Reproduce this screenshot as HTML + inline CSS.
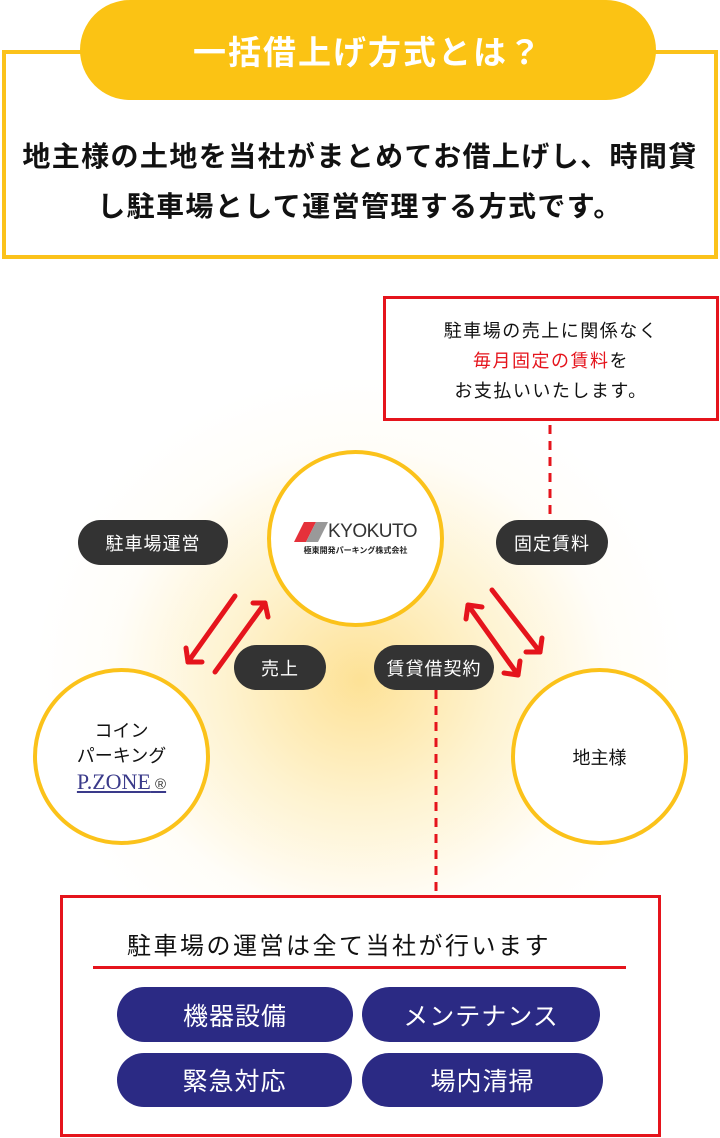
<!DOCTYPE html>
<html><head><meta charset="utf-8"><style>
*{margin:0;padding:0;box-sizing:border-box}
body{width:720px;height:1138px;position:relative;background:#fff;font-family:"Liberation Sans","Noto Sans CJK JP",sans-serif;overflow:hidden}
.a{position:absolute}
.glow{left:40px;top:380px;width:640px;height:600px;background:radial-gradient(ellipse at center,rgba(252,206,80,.6) 0%,rgba(253,220,120,.35) 30%,rgba(255,240,200,.12) 55%,rgba(255,255,255,0) 72%)}
.circ{border:4px solid #fbc21a;border-radius:50%;background:#fff;display:flex;flex-direction:column;align-items:center;justify-content:center;text-align:center;font-size:18px;color:#111}
.pill{background:#333;color:#fff;border-radius:23px;height:45px;display:flex;align-items:center;justify-content:center;font-size:18px;letter-spacing:1px}
.btn{background:#2b2a84;color:#fff;border-radius:28px;display:flex;align-items:center;justify-content:center;font-size:25px;letter-spacing:1px}
</style></head><body>
<div class="a" style="left:2px;top:50px;width:716px;height:209px;border:4px solid #fbc21a"></div>
<div class="a" style="left:80px;top:0;width:576px;height:100px;border-radius:50px;background:#fbc314;color:#fff;font-size:33px;font-weight:bold;display:flex;align-items:center;justify-content:center;letter-spacing:2px">一括借上げ方式とは？</div>
<div class="a" style="left:0;top:132px;width:720px;text-align:center;font-size:28px;font-weight:bold;line-height:50px;color:#111;letter-spacing:1.4px">地主様の土地を当社がまとめてお借上げし、時間貸<br>し駐車場として運営管理する方式です。</div>

<div class="a glow"></div>

<div class="a" style="left:383px;top:296px;width:336px;height:125px;border:3px solid #e5141c;background:#fff;text-align:center;font-size:18px;line-height:30px;padding-top:17px;color:#111;letter-spacing:1.5px">駐車場の売上に関係なく<br><span style="color:#e5141c">毎月固定の賃料</span>を<br>お支払いいたします。</div>

<svg class="a" style="left:0;top:0" width="720" height="1138">
<line x1="550" y1="425" x2="550" y2="520" stroke="#e5141c" stroke-width="3" stroke-dasharray="9,7"/>
<line x1="436" y1="690" x2="436" y2="895" stroke="#e5141c" stroke-width="3" stroke-dasharray="9,7"/>
<g stroke="#e5141c" stroke-width="5" fill="none" stroke-linecap="round" stroke-linejoin="round">
<line x1="235" y1="596" x2="188" y2="662"/><polyline points="186,648 188,662 202,662"/>
<line x1="215" y1="672" x2="265" y2="603"/><polyline points="253,603 265,603 268,617"/>
<line x1="468" y1="605" x2="518" y2="675"/><polyline points="466,619 468,605 482,607"/><polyline points="504,673 518,675 520,661"/>
<line x1="492" y1="590" x2="540" y2="652"/><polyline points="526,652 540,652 542,638"/>
</g>
</svg>

<div class="a circ" style="left:267px;top:450px;width:177px;height:177px">
<div style="display:flex;align-items:center"><svg width="34" height="20"><polygon points="10,0 22,0 12,20 0,20" fill="#e5313a"/><polygon points="22,0 34,0 24,20 12,20" fill="#999"/></svg><span style="font-size:19px;color:#333;letter-spacing:-.5px">KYOKUTO</span></div>
<div style="font-size:8px;font-weight:bold;color:#222;margin-top:2px">極東開発パーキング株式会社</div>
</div>
<div class="a circ" style="left:33px;top:668px;width:177px;height:177px;line-height:25px;padding-top:4px">コイン<br>パーキング<div style="font-family:'Liberation Serif',serif;color:#3a3a8a;font-size:22px;line-height:26px;text-decoration:underline"><span>P.ZONE</span><span style="font-size:15px;color:#333;font-family:'Liberation Sans'"> ®</span></div></div>
<div class="a circ" style="left:511px;top:668px;width:177px;height:177px">地主様</div>

<div class="a pill" style="left:78px;top:520px;width:150px">駐車場運営</div>
<div class="a pill" style="left:496px;top:520px;width:112px">固定賃料</div>
<div class="a pill" style="left:234px;top:645px;width:92px">売上</div>
<div class="a pill" style="left:374px;top:645px;width:120px">賃貸借契約</div>

<div class="a" style="left:60px;top:895px;width:601px;height:242px;border:3px solid #e5141c;background:#fff"></div>
<div class="a" style="left:127px;top:926px;font-size:24px;color:#111;letter-spacing:2.5px">駐車場の運営は全て当社が行います</div>
<div class="a" style="left:93px;top:966px;width:533px;height:3px;background:#e5141c"></div>
<div class="a btn" style="left:117px;top:987px;width:236px;height:55px">機器設備</div>
<div class="a btn" style="left:362px;top:987px;width:238px;height:55px">メンテナンス</div>
<div class="a btn" style="left:117px;top:1053px;width:235px;height:54px">緊急対応</div>
<div class="a btn" style="left:362px;top:1053px;width:241px;height:54px">場内清掃</div>
</body></html>
